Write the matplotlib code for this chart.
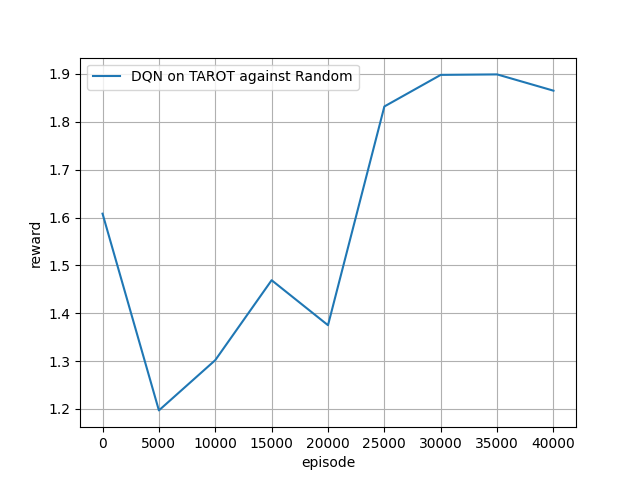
import matplotlib
matplotlib.use("Agg")
import matplotlib.pyplot as plt

episodes = [0, 5000, 10000, 15000, 20000, 25000, 30000, 35000, 40000]
rewards = [1.608, 1.197, 1.302, 1.469, 1.375, 1.832, 1.898, 1.899, 1.865]

fig, ax = plt.subplots(figsize=(6.4, 4.8), dpi=100)
ax.plot(episodes, rewards, label="DQN on TAROT against Random")
ax.set_xlabel("episode")
ax.set_ylabel("reward")
ax.grid(True)
ax.legend(loc="upper left")
fig.savefig("out.png")
